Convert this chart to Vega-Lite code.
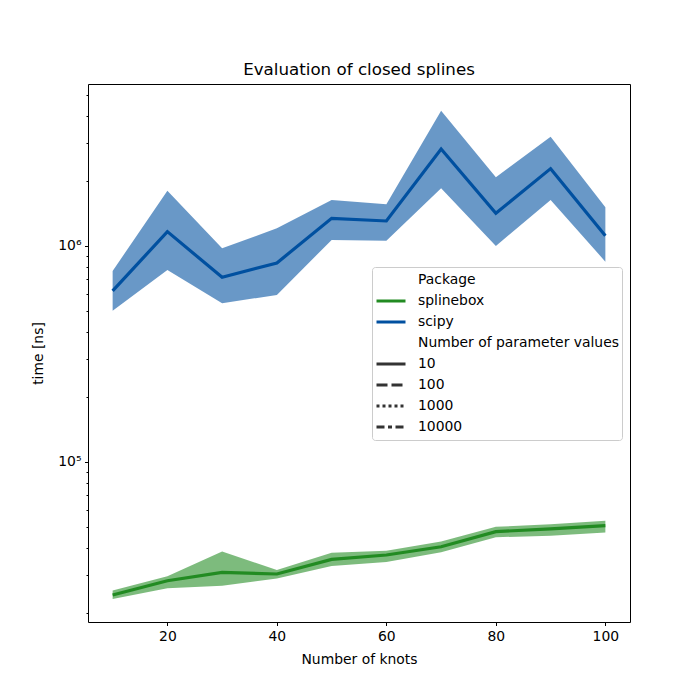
{
  "$schema": "https://vega.github.io/schema/vega-lite/v6.json",
  "autosize": {"type": "none"},
  "width": 542,
  "height": 538,
  "padding": {"left": 88, "top": 84, "right": 70, "bottom": 78},
  "background": "white",
  "config": {
    "font": "DejaVu Sans",
    "view": {"stroke": "black", "strokeWidth": 1},
    "axis": {"grid": false, "domain": false, "tickColor": "black", "labelColor": "black", "titleColor": "black", "labelFontSize": 13.9, "titleFontSize": 13.9, "titleFontWeight": "normal", "labelFont": "DejaVu Sans", "titleFont": "DejaVu Sans"},
    "legend": {"labelFont": "DejaVu Sans", "labelFontSize": 13.9, "labelColor": "black"}
  },
  "title": {"text": "Evaluation of closed splines", "fontSize": 16.7, "fontWeight": "normal", "font": "DejaVu Sans", "color": "black", "anchor": "middle", "offset": 5},
  "datasets": {
    "timings": [
      {"package": "splinebox", "knots": 10, "time": 24200, "lo": 23200, "hi": 25400},
      {"package": "splinebox", "knots": 20, "time": 28200, "lo": 26000, "hi": 29600},
      {"package": "splinebox", "knots": 30, "time": 30800, "lo": 26700, "hi": 38500},
      {"package": "splinebox", "knots": 40, "time": 30300, "lo": 28900, "hi": 31600},
      {"package": "splinebox", "knots": 50, "time": 35400, "lo": 33000, "hi": 38000},
      {"package": "splinebox", "knots": 60, "time": 37100, "lo": 34400, "hi": 38800},
      {"package": "splinebox", "knots": 70, "time": 40500, "lo": 38200, "hi": 42800},
      {"package": "splinebox", "knots": 80, "time": 47600, "lo": 44800, "hi": 50100},
      {"package": "splinebox", "knots": 90, "time": 49000, "lo": 45600, "hi": 51500},
      {"package": "splinebox", "knots": 100, "time": 50700, "lo": 47200, "hi": 53500},
      {"package": "scipy", "knots": 10, "time": 619000, "lo": 501000, "hi": 766000},
      {"package": "scipy", "knots": 20, "time": 1165000, "lo": 774000, "hi": 1800000},
      {"package": "scipy", "knots": 30, "time": 716000, "lo": 543000, "hi": 976000},
      {"package": "scipy", "knots": 40, "time": 834000, "lo": 593000, "hi": 1207000},
      {"package": "scipy", "knots": 50, "time": 1343000, "lo": 1066000, "hi": 1633000},
      {"package": "scipy", "knots": 60, "time": 1305000, "lo": 1058000, "hi": 1560000},
      {"package": "scipy", "knots": 70, "time": 2810000, "lo": 1850000, "hi": 4230000},
      {"package": "scipy", "knots": 80, "time": 1416000, "lo": 1000000, "hi": 2080000},
      {"package": "scipy", "knots": 90, "time": 2280000, "lo": 1633000, "hi": 3200000},
      {"package": "scipy", "knots": 100, "time": 1116000, "lo": 846000, "hi": 1510000}
    ],
    "legendEntries": [
      {"entry": "Package"},
      {"entry": "splinebox"},
      {"entry": "scipy"},
      {"entry": "Number of parameter values"},
      {"entry": "10"},
      {"entry": "100"},
      {"entry": "1000"},
      {"entry": "10000"}
    ]
  },
  "resolve": {"scale": {"color": "independent", "strokeDash": "independent"}, "legend": {"color": "independent", "strokeDash": "independent"}},
  "layer": [
    {
      "data": {"name": "timings"},
      "mark": {"type": "area", "opacity": 0.59},
      "encoding": {
        "x": {"field": "knots", "type": "quantitative", "scale": {"domain": [5.5, 104.5], "nice": false, "zero": false},
              "axis": {"values": [20, 40, 60, 80, 100], "title": "Number of knots", "tickSize": 3.5, "labelPadding": 3.5, "titlePadding": 10, "labelFlush": false}},
        "y": {"field": "lo", "type": "quantitative", "scale": {"type": "log", "domain": [18160, 5620000], "nice": false},
              "axis": {"title": "time [ns]", "values": [20000, 30000, 40000, 50000, 60000, 70000, 80000, 90000, 100000, 200000, 300000, 400000, 500000, 600000, 700000, 800000, 900000, 1000000, 2000000, 3000000, 4000000, 5000000],
                       "labelExpr": "datum.value == 100000 ? '10⁵' : (datum.value == 1000000 ? '10⁶' : '')",
                       "tickSize": {"condition": {"test": "datum.value == 100000 || datum.value == 1000000", "value": 3.5}, "value": 2},
                       "labelOverlap": false, "labelBound": false, "labelFlush": false, "labelPadding": 3.5, "titlePadding": 12}},
        "y2": {"field": "hi"},
        "color": {"field": "package", "type": "nominal", "scale": {"domain": ["splinebox", "scipy"], "range": ["#228b22", "#0050a0"]}, "legend": null}
      }
    },
    {
      "data": {"name": "timings"},
      "mark": {"type": "line", "strokeWidth": 3.2},
      "encoding": {
        "x": {"field": "knots", "type": "quantitative"},
        "y": {"field": "time", "type": "quantitative"},
        "color": {"field": "package", "type": "nominal", "scale": {"domain": ["splinebox", "scipy"], "range": ["#228b22", "#0050a0"]}, "legend": null}
      }
    },
    {
      "data": {"name": "legendEntries"},
      "mark": {"type": "line", "strokeWidth": 3},
      "encoding": {
        "x": {"datum": 50, "type": "quantitative"},
        "y": {"datum": 100000, "type": "quantitative"},
        "color": {"field": "entry", "type": "nominal",
                  "scale": {"domain": ["Package", "splinebox", "scipy", "Number of parameter values", "10", "100", "1000", "10000"],
                            "range": ["transparent", "#228b22", "#0050a0", "transparent", "#333333", "#333333", "#333333", "#333333"]},
                  "legend": {"title": null, "orient": "none", "legendX": 284, "legendY": 183, "symbolType": "stroke", "symbolSize": 841, "symbolStrokeWidth": 3,
                             "clipHeight": 20, "rowPadding": 1, "labelOffset": 11, "padding": 3, "strokeColor": "#cccccc", "fillColor": "rgba(255,255,255,0.8)", "cornerRadius": 3, "labelLimit": 300}},
        "strokeDash": {"field": "entry", "type": "nominal",
                  "scale": {"domain": ["Package", "splinebox", "scipy", "Number of parameter values", "10", "100", "1000", "10000"],
                            "range": [[1, 0], [1, 0], [1, 0], [1, 0], [1, 0], [11, 4], [3, 3], [8, 3.5, 4, 3.5]]},
                  "legend": {"title": null, "orient": "none", "legendX": 284, "legendY": 183}}
      }
    }
  ]
}
